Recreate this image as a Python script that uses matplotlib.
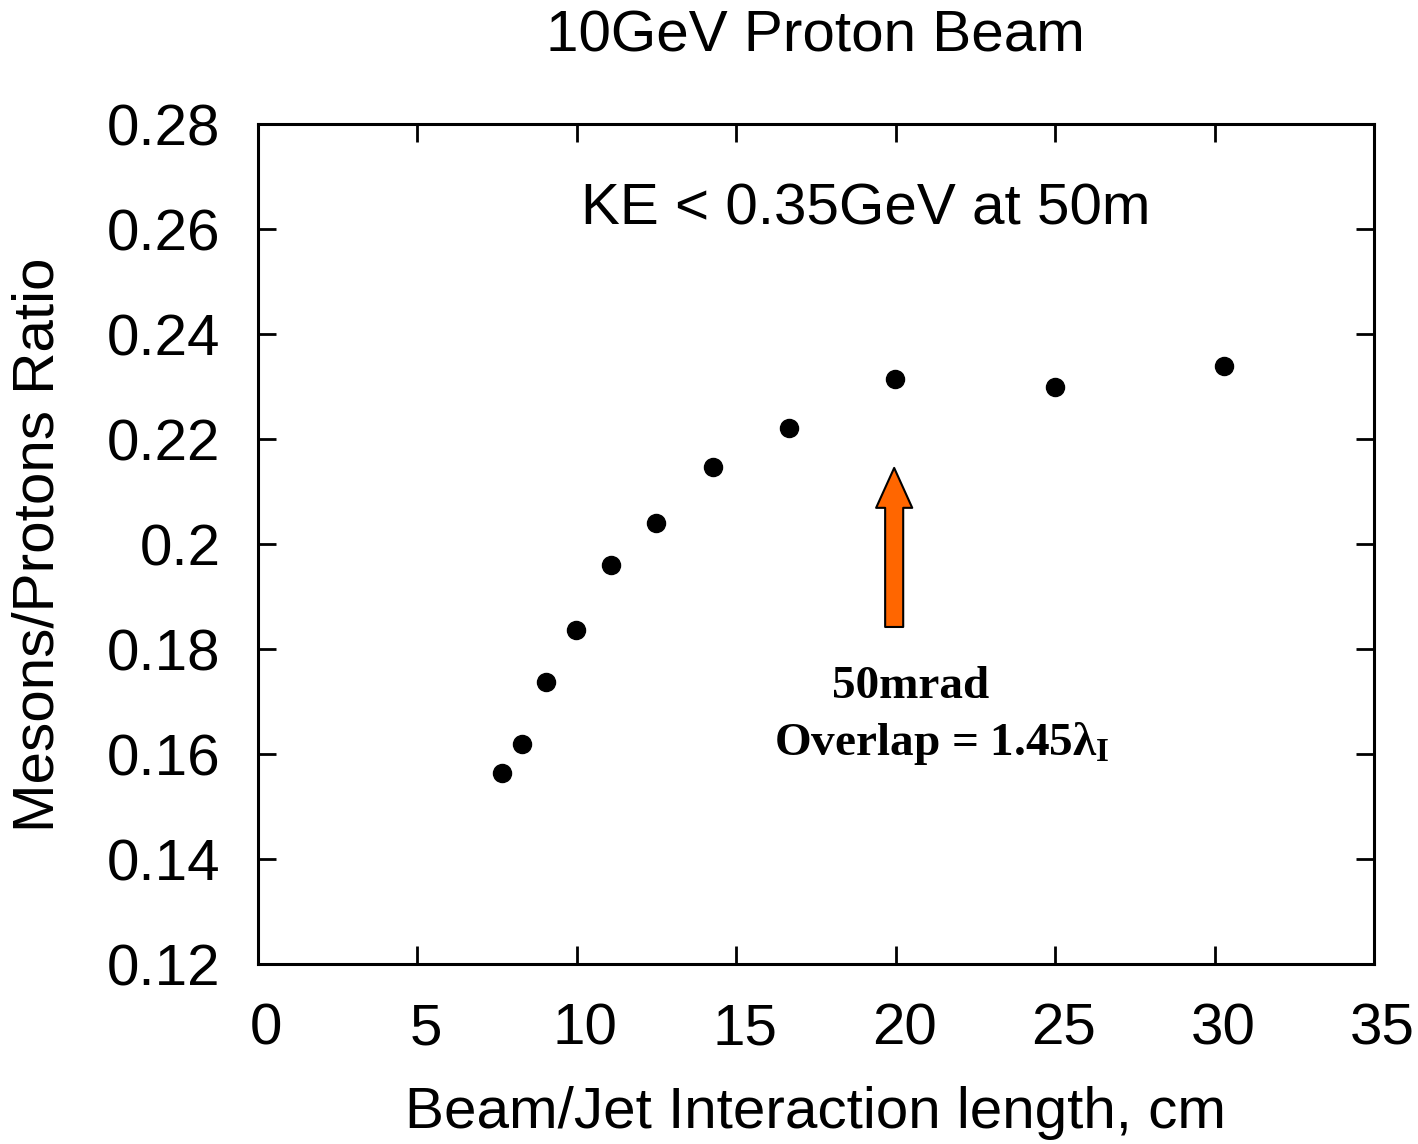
import numpy as np
import matplotlib.pyplot as plt
from matplotlib.transforms import ScaledTranslation

plt.rcParams['font.family'] = ['Liberation Sans', 'DejaVu Sans']
plt.rcParams['mathtext.fontset'] = 'custom'
plt.rcParams['mathtext.rm'] = 'Liberation Serif:bold'
plt.rcParams['mathtext.it'] = 'Liberation Serif:bold'
plt.rcParams['mathtext.bf'] = 'Liberation Serif:bold'

# interaction length (cm) vs mesons/protons ratio
length_cm = [7.65, 8.28, 9.03, 9.97, 11.07, 12.48, 14.27, 16.65, 19.97, 24.99, 30.29]
ratio = [0.1564, 0.1619, 0.1737, 0.1836, 0.1960, 0.2040, 0.2147, 0.2221, 0.2314, 0.2299, 0.2339]

x_ticks = [0, 5, 10, 15, 20, 25, 30, 35]
y_ticks = [0.12, 0.14, 0.16, 0.18, 0.2, 0.22, 0.24, 0.26, 0.28]
y_tick_labels = ['0.12', '0.14', '0.16', '0.18', '0.2', '0.22', '0.24', '0.26', '0.28']

# 50 mrad overlap marker
arrow_x = 19.95
arrow_y0, arrow_y1 = 0.1842, 0.2145

fig = plt.figure(figsize=(14.18, 11.44), dpi=100)
ax = fig.add_axes([0.182, 0.1573, 0.787, 0.7343])

ax.plot(length_cm, ratio, 'o', color='black', markersize=13)

ax.set_xlim(0, 35)
ax.set_ylim(0.12, 0.28)
ax.set_xticks(x_ticks)
ax.set_yticks(y_ticks)
ax.set_yticklabels(y_tick_labels)
ax.tick_params(direction='in', length=13, width=2, labelsize=42,
               top=True, right=True)
ax.tick_params(axis='x', pad=28)
ax.tick_params(axis='y', pad=27)
for s in ax.spines.values():
    s.set_linewidth(2.2)

# x tick labels sit a little to the right of their ticks
shift = ScaledTranslation(6 / 72, 0, fig.dpi_scale_trans)
for lbl in ax.get_xticklabels():
    lbl.set_transform(lbl.get_transform() + shift)

fig.text(0.575, 0.027, 'Beam/Jet Interaction length, cm', fontsize=42,
         ha='center', va='center')
fig.text(0.027, 0.524, 'Mesons/Protons Ratio', fontsize=42,
         ha='center', va='center', rotation=90)
fig.text(0.575, 0.968, '10GeV Proton Beam', fontsize=42, ha='center', va='center')

ax.text(19.07, 0.2637, 'KE < 0.35GeV at 50m', fontsize=42, ha='center', va='center')

ax.annotate('', xy=(arrow_x, arrow_y1), xytext=(arrow_x, arrow_y0),
            arrowprops=dict(arrowstyle='simple,head_width=1.04,head_length=1.15,tail_width=0.52',
                            fc='#ff6600', ec='black', lw=1.5, shrinkA=0, shrinkB=0,
                            mutation_scale=25))

ax.text(20.48, 0.1727, '50mrad', fontsize=34, fontweight='bold',
        family='Liberation Serif', ha='center', va='center')
ax.text(21.45, 0.1620, r'Overlap = 1.45$\lambda_{\mathrm{I}}$', fontsize=34, fontweight='bold',
        family='Liberation Serif', ha='center', va='center')

fig.savefig('out.png', dpi=100)
